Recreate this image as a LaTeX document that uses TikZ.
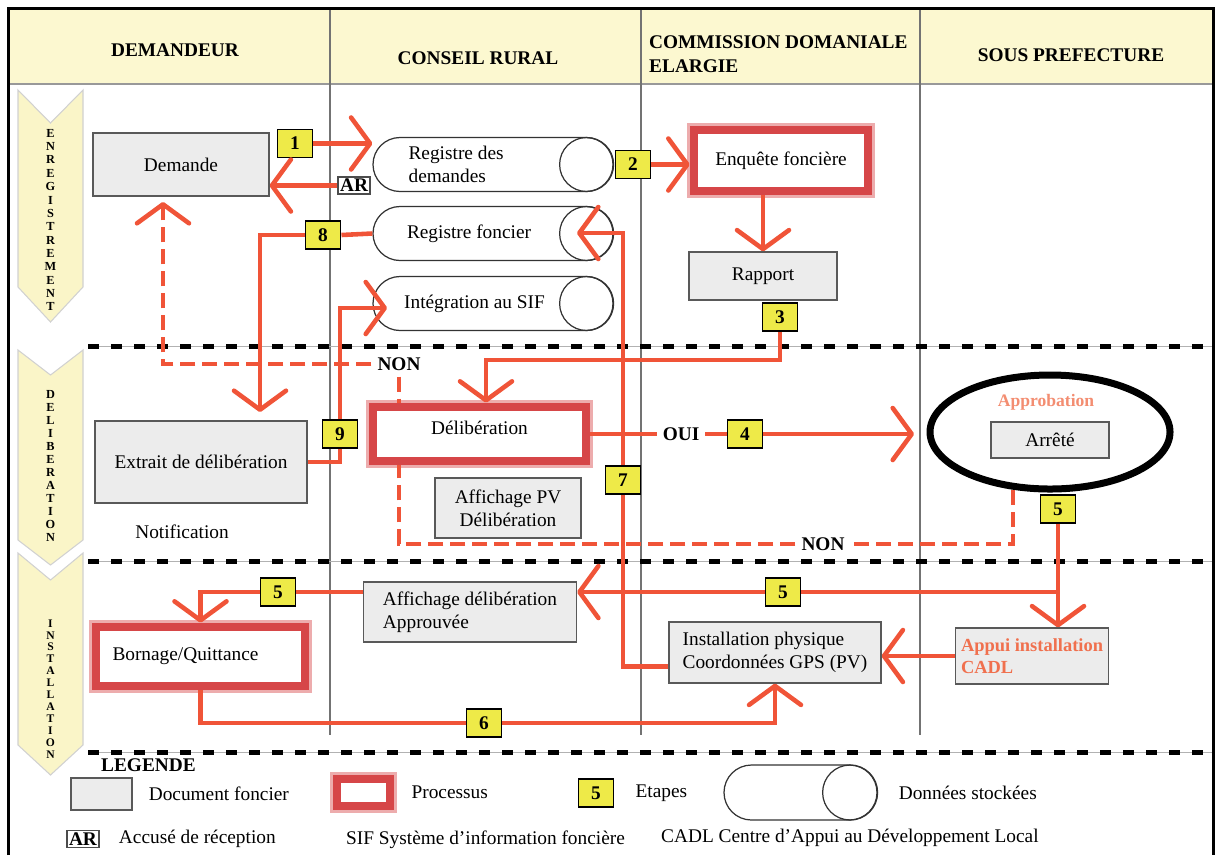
\documentclass[tikz,border=0pt]{standalone}
\usepackage{fontspec}
\setmainfont{Liberation Serif}
\usetikzlibrary{arrows.meta,positioning,shapes.geometric,shapes.misc}

\definecolor{headfill}{RGB}{252,248,208}
\definecolor{bannerfill}{RGB}{250,245,200}
\definecolor{flowred}{RGB}{240,84,56}
\definecolor{procred}{RGB}{214,70,72}
\definecolor{stepfill}{RGB}{238,234,72}
\definecolor{docfill}{RGB}{236,236,236}
\definecolor{orangetext}{RGB}{240,112,78}

\tikzset{
    docbox/.style={draw=black!65, fill=docfill, line width=0.7pt, inner sep=0pt},
    procbox/.style={draw=procred, line width=5pt, fill=white, inner sep=0pt,
        preaction={draw=procred!45, line width=8.5pt}},
    stepbox/.style={draw=black, line width=1.1pt, fill=stepfill, minimum width=7mm,
        minimum height=5.6mm, inner sep=0pt, font=\fontsize{11}{12}\selectfont\bfseries},
    arbox/.style={draw=black!70, fill=white, line width=0.8pt, inner sep=1.2pt,
        font=\fontsize{11}{12}\selectfont\bfseries},
    store/.style={rounded rectangle, draw=black!80, line width=0.7pt, minimum width=48mm,
        minimum height=10.8mm, inner sep=0pt},
    redline/.style={draw=flowred, line width=2.6pt},
    flow/.style={redline, -{Straight Barb[length=3.8mm, width=10.4mm, round]}},
    redash/.style={redline, dash pattern=on 3mm off 1.4mm},
    dflow/.style={redash, -{Straight Barb[length=3.8mm, width=10.4mm, round]}},
    laneline/.style={draw=black, line width=1mm, dash pattern=on 2.2mm off 2.4mm},
    banner/.style={fill=bannerfill, draw=black!18, line width=0.6pt},
    bannertext/.style={align=center, font=\fontsize{7}{7.6}\selectfont\bfseries},
    headtext/.style={font=\fontsize{11}{14}\selectfont\bfseries},
    boldtext/.style={font=\fontsize{11}{13}\selectfont\bfseries}
}

\begin{document}
\begin{tikzpicture}[x=0.2mm, y=0.2mm, font=\fontsize{11}{13}\selectfont]
    \useasboundingbox (0,0) rectangle (1216,-855);
    % Header
    \fill[headfill] (10,-9) rectangle (1212,-84);
    \draw[black!40, line width=1pt] (10,-84) -- (1212,-84);
    \node[headtext] (hdem) at (175,-50) {DEMANDEUR};
    \node[headtext] (hcr) at (478,-58) {CONSEIL RURAL};
    \node[headtext, anchor=west, align=left] (hcde) at (643,-54) {COMMISSION DOMANIALE\\ELARGIE};
    \node[headtext] (hsp) at (1071,-55) {SOUS PREFECTURE};
    % Lanes
    \foreach \x in {330,641,920}
        \draw[black!55, line width=0.8pt] (\x,-9) -- (\x,-735);
    \foreach \y in {346,561,752} {
        \draw[black!30, line width=0.4pt] (88,-\y) -- (1212,-\y);
        \draw[laneline] (88,-\y) -- (1212,-\y);
    }
    % Phases
    \filldraw[banner] (18,-90) -- (50.5,-123) -- (83,-90) -- (83,-287) -- (50.5,-322) -- (18,-287) -- cycle;
    \filldraw[banner] (18,-350) -- (50.5,-375) -- (83,-350) -- (83,-540) -- (50.5,-565) -- (18,-540) -- cycle;
    \filldraw[banner] (18,-553) -- (50.5,-580) -- (83,-553) -- (83,-745) -- (50.5,-775) -- (18,-745) -- cycle;
    \node[bannertext] (enr) at (50.5,-220) {E\\N\\R\\E\\G\\I\\S\\T\\R\\E\\M\\E\\N\\T};
    \node[bannertext, font=\fontsize{7}{7.4}\selectfont\bfseries] (del) at (50.5,-466) {D\\E\\L\\I\\B\\E\\R\\A\\T\\I\\O\\N};
    \node[bannertext, font=\fontsize{6.6}{6.8}\selectfont\bfseries] (ins) at (50.5,-689) {I\\N\\S\\T\\A\\L\\L\\A\\T\\I\\O\\N};

    % Enregistrement
    \node[docbox, minimum width=35.2mm, minimum height=12.6mm] (demande) at (181,-164.5) {Demande};
    \node[stepbox] (s1) at (295,-143.5) {1};
    \node[arbox] (ar) at (354,-185.5) {AR};
    \node[store] (regdem) at (493,-164.5) {};
    \node[store] (regfon) at (493,-233.5) {};
    \node[store] (sif) at (493,-303.5) {};
    \foreach \s in {regdem,regfon,sif}
        \draw[black!80, line width=0.7pt] ([xshift=-5.4mm]\s.east) circle (5.4mm);
    \node[anchor=west, align=left] (regdemtxt) at ([xshift=6mm]regdem.west) {Registre des\\demandes};
    \node (regfontxt) at ([xshift=-4.8mm]regfon.center) {Registre foncier};
    \node (siftxt) at ([xshift=-3.7mm]sif.center) {Intégration au SIF};
    \node[stepbox] (s2) at (633,-164.5) {2};
    \node[procbox, minimum width=34.8mm, minimum height=12.2mm] (enq) at (781,-160.5) {Enquête foncière};
    \node[docbox, minimum width=29.6mm, minimum height=9.6mm] (rapport) at (763,-276) {Rapport};
    \node[stepbox] (s3) at (780,-317) {3};
    \node[stepbox] (s8) at (323,-235) {8};
    \coordinate (c8) at (260,-412);
    \coordinate (c9) at (387,-308);
    \coordinate (c7) at (577,-233);
    \coordinate (c3) at (486,-360);
    \coordinate (cd) at (163,-202);

    % Deliberation
    \node[procbox, minimum width=42.6mm, minimum height=10.8mm, text depth=2.6mm] (delib) at (479.5,-434) {Délibération};
    \node[docbox, minimum width=42.4mm, minimum height=16.4mm] (extrait) at (201,-462) {Extrait de délibération};
    \node[stepbox] (s9) at (340,-434) {9};
    \node (notif) at (182,-532) {Notification};
    \node[docbox, minimum width=29.2mm, minimum height=12mm, align=center] (affpv) at (508,-508) {Affichage PV\\Délibération};
    \node[stepbox] (s7) at (623,-480) {7};
    \node[boldtext] (oui) at (681,-434) {OUI};
    \node[stepbox] (s4) at (745,-434) {4};
    \node[boldtext] (non1) at (399,-364) {NON};
    \node[boldtext] (non2) at (823,-544) {NON};
    \node[ellipse, draw, line width=1.4mm, minimum width=48mm, minimum height=22.8mm] (appro) at (1050,-432) {};
    \node[font=\fontsize{10}{12}\selectfont\bfseries, text=orangetext!80] (approtxt) at (1046,-402) {Approbation};
    \node[docbox, minimum width=23.6mm, minimum height=7.2mm] (arrete) at (1050,-440) {Arrêté};
    \node[stepbox] (s5r) at (1058,-509) {5};
    \coordinate (c4) at (914,-434);
    \coordinate (cn2) at (1013,-490);

    % Installation
    \node[stepbox] (s5l) at (278,-592) {5};
    \node[docbox, minimum width=42.6mm, minimum height=12mm, align=left] (affdel) at (470,-612) {Affichage délibération\\Approuvée};
    \node[stepbox] (s5m) at (783,-592) {5};
    \node[procbox, minimum width=41.8mm, minimum height=11.8mm] (bornage) at (200.5,-656.5) {Bornage/Quittance\hspace*{6mm}};
    \node[docbox, minimum width=42.4mm, minimum height=12.2mm, align=left] (install) at (775,-652.5) {Installation physique\\Coordonnées GPS (PV)};
    \node[docbox, minimum width=30.6mm, minimum height=11.2mm, align=left, text=orangetext,
        font=\fontsize{10.5}{12.5}\selectfont\bfseries] (appui) at (1032,-656) {Appui installation\\CADL};
    \node[stepbox] (s6) at (484,-723) {6};

    % Flows
    \draw[flow] (s1.east) -- (s1.east -| regdem.west);
    \draw[flow] (ar.west) -- (ar.west -| demande.east);
    \draw[flow] (s2.east) -- (s2.east -| enq.west);
    \draw[flow] (rapport.north |- enq.south) -- (rapport.north);
    \draw[flow] (s3.south) |- (c3) -- (c3 |- delib.north);
    \draw[redline] (regfon.west) -- (s8.east);
    \draw[flow] (s8.west) -| (c8);
    \draw[redline] (extrait.east) -| (s9.south);
    \draw[flow] (s9.north) |- (c9);
    \draw[dflow] (non1.west) -| (cd);
    \draw[redash] (non1.south) -- (non1 |- delib.north);
    \draw[redline] (delib.east) -- (oui.west);
    \draw[redline] (oui.east) -- (s4.west);
    \draw[flow] (s4.east) -- (c4);
    \draw[redash] (cn2) |- (non2.east);
    \draw[redash] (non2.west) -| (non1 |- delib.south);
    \draw[redline] ([yshift=-2.8mm]install.west) -| (s7.south);
    \draw[flow] (s7.north) |- (c7);
    \draw[flow] (s5r.south) -- (s5r.south |- appui.north);
    \draw[redline] (s5r.south |- s5m) -- (s5m.east);
    \draw[flow] (s5m.west) -- (s5m.west -| affdel.east);
    \draw[redline] (s5l.east) -- (s5l.east -| affdel.west);
    \draw[flow] (s5l.west) -| (bornage.north);
    \draw[redline] (bornage.south) |- (s6.west);
    \draw[flow] (s6.east) -| (install.south);
    \draw[flow] (appui.west) -- (appui.west -| install.east);

    % Legend
    \node[boldtext, anchor=west] (leg) at (95,-765) {LEGENDE};
    \node[docbox, minimum width=12.2mm, minimum height=6.4mm] (legdoc) at (101.5,-794) {};
    \node[right=2mm of legdoc] (legdoct) {Document foncier};
    \node[procbox, minimum width=10.6mm, minimum height=5.4mm] (legproc) at (363.5,-792.5) {};
    \node[right=2.2mm of legproc] (legproct) {Processus};
    \node[stepbox] (legstep) at (596,-793) {5};
    \node[right=3mm of legstep] (legstept) {Etapes};
    \node[store, minimum width=30.6mm, minimum height=11mm] (legstore) at (800.5,-792.5) {};
    \draw[black!80, line width=0.7pt] ([xshift=-5.5mm]legstore.east) circle (5.5mm);
    \node[right=3mm of legstore] (legstoret) {Données stockées};
    \node[arbox] (legar) at (83,-839) {AR};
    \node[right=2.6mm of legar] (legart) {Accusé de réception};
    \node[anchor=west] (legsif) at (340,-840) {SIF Système d’information foncière};
    \node[anchor=west] (legcadl) at (655,-838) {CADL Centre d’Appui au Développement Local};

    % Frame
    \draw[line width=0.6mm] (8,-855) -- (8,-8) -- (1213,-8) -- (1213,-855);
\end{tikzpicture}
\end{document}
